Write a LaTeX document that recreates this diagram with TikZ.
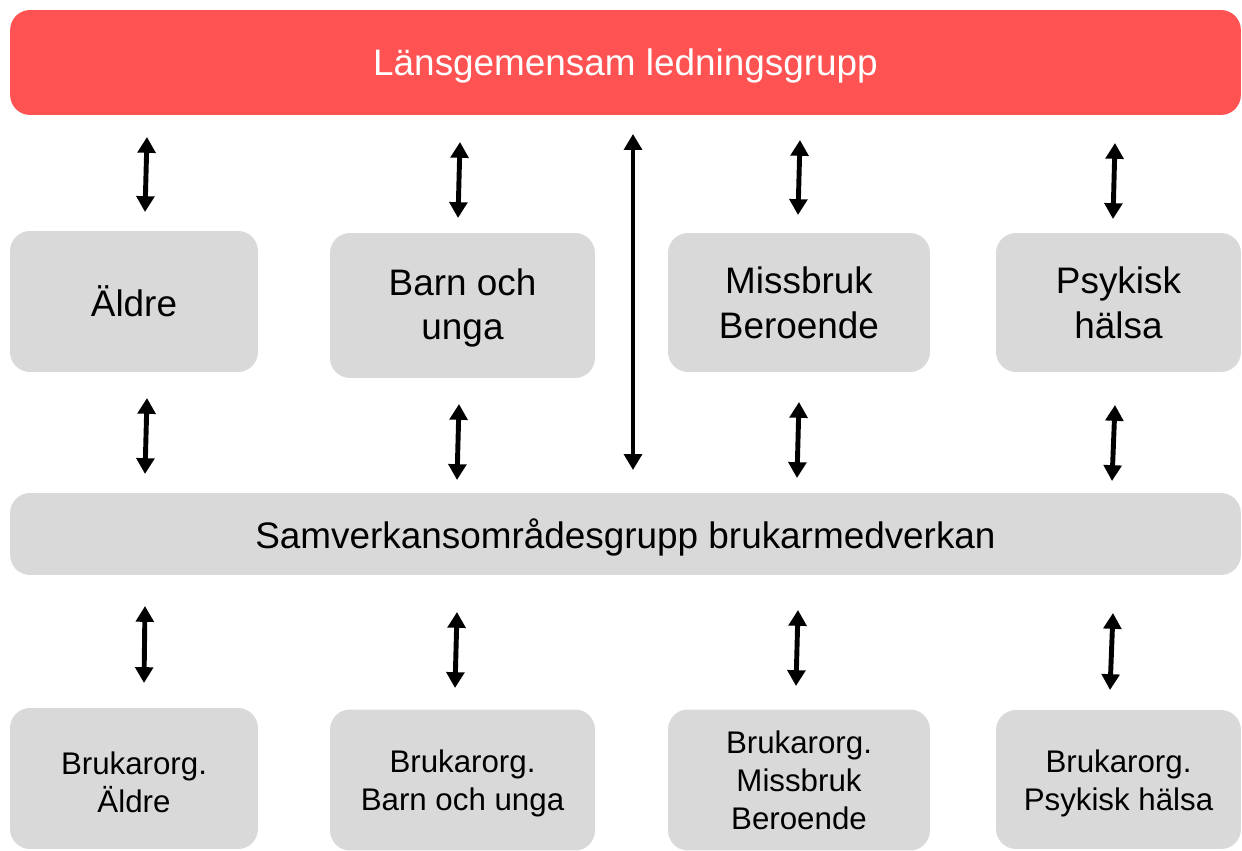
\documentclass[tikz,border=0pt]{standalone}
\usepackage{fontspec}
\setmainfont{Liberation Sans}
\usepackage{xcolor}
\usetikzlibrary{arrows.meta}

\definecolor{leadred}{RGB}{255,82,82}
\definecolor{boxgray}{RGB}{217,217,217}

\tikzset{
  lead/.style={fill=leadred, rounded corners=0.4cm, text=white, inner sep=0pt,
    text depth=0pt, font=\fontsize{21}{25}\selectfont},
  area/.style={fill=boxgray, rounded corners=0.4cm, align=center, inner sep=0pt,
    font=\fontsize{21}{25.5}\selectfont},
  org/.style={fill=boxgray, rounded corners=0.4cm, align=center, inner sep=0pt,
    font=\fontsize{17.8}{21.7}\selectfont},
  link/.style={line width=2.8pt, {Triangle[width=10pt,length=9pt]}-{Triangle[width=10pt,length=9pt]}}
}

\begin{document}
\begin{tikzpicture}[x=0.02cm,y=-0.02cm]
            \useasboundingbox (0,0) rectangle (1242,851);

            % Nodes
            \node[lead, minimum width=24.62cm, minimum height=2.1cm] (lg) at (625.5,62.5) {Länsgemensam ledningsgrupp};

            \node[area, minimum width=4.96cm, minimum height=2.82cm] (aldre) at (134,301.5) {Äldre};
            \node[area, minimum width=5.3cm, minimum height=2.9cm] (barn) at (462.5,305.5) {\rule{0pt}{18pt}Barn och\\unga};
            \node[area, minimum width=5.24cm, minimum height=2.78cm] (miss) at (799,302.5) {Missbruk\\Beroende};
            \node[area, minimum width=4.9cm, minimum height=2.78cm] (psyk) at (1118.5,302.5) {Psykisk\\hälsa};

            \node[area, text depth=0pt, minimum width=24.62cm, minimum height=1.64cm] (sam) at (625.5,534) {Samverkansområdesgrupp brukarmedverkan};

            \node[org, minimum width=4.96cm, minimum height=2.82cm] (oaldre) at (134,778.5) {\rule{0pt}{17pt}Brukarorg.\\Äldre};
            \node[org, minimum width=5.3cm, minimum height=2.82cm] (obarn) at (462.5,780) {\rule{0pt}{17pt}Brukarorg.\\Barn och unga};
            \node[org, minimum width=5.24cm, minimum height=2.82cm] (omiss) at (799,780) {Brukarorg.\\Missbruk\\Beroende};
            \node[org, minimum width=4.9cm, minimum height=2.78cm] (opsyk) at (1118.5,779.5) {\rule{0pt}{17pt}Brukarorg.\\Psykisk hälsa};

            % Arrow ends
            \coordinate (a1t) at (147,137);  \coordinate (a1b) at (145,212);
            \coordinate (a2t) at (460,142);  \coordinate (a2b) at (458,218);
            \coordinate (a3t) at (633,134);  \coordinate (a3b) at (633,470);
            \coordinate (a4t) at (800,140);  \coordinate (a4b) at (798,215);
            \coordinate (a5t) at (1115,143); \coordinate (a5b) at (1113,219);

            \coordinate (b1t) at (147,398);  \coordinate (b1b) at (145,474);
            \coordinate (b2t) at (459,404);  \coordinate (b2b) at (457,480);
            \coordinate (b4t) at (799,402);  \coordinate (b4b) at (797,478);
            \coordinate (b5t) at (1115,405); \coordinate (b5b) at (1112,481);

            \coordinate (c1t) at (145,606);  \coordinate (c1b) at (144,683);
            \coordinate (c2t) at (457,612);  \coordinate (c2b) at (455,688);
            \coordinate (c4t) at (798,610);  \coordinate (c4b) at (796,686);
            \coordinate (c5t) at (1113,613); \coordinate (c5b) at (1110,690);

            % Edges
            \draw[link] (a1t) -- (a1b);
            \draw[link] (a2t) -- (a2b);
            \draw[link] (a3t) -- (a3b);
            \draw[link] (a4t) -- (a4b);
            \draw[link] (a5t) -- (a5b);

            \draw[link] (b1t) -- (b1b);
            \draw[link] (b2t) -- (b2b);
            \draw[link] (b4t) -- (b4b);
            \draw[link] (b5t) -- (b5b);

            \draw[link] (c1t) -- (c1b);
            \draw[link] (c2t) -- (c2b);
            \draw[link] (c4t) -- (c4b);
            \draw[link] (c5t) -- (c5b);
        \end{tikzpicture}
\end{document}
